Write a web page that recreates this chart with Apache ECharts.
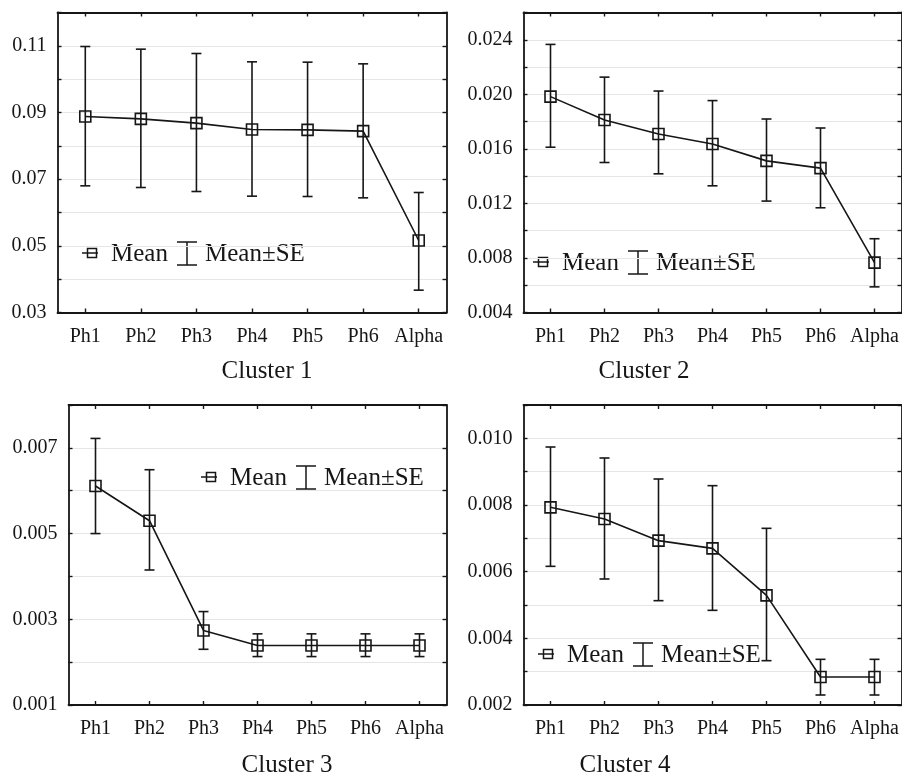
<!DOCTYPE html>
<html>
<head>
<meta charset="utf-8">
<script src="https://cdn.jsdelivr.net/npm/echarts@6/dist/echarts.min.js"></script>
<style>
    html, body { margin: 0; padding: 0; background: #fff; }
    #chart { width: 902px; height: 777px; }
</style>
</head>
<body>
<div id="chart"></div>
<script>
    // categories shared by all four clusters
    var categories = ['Ph1', 'Ph2', 'Ph3', 'Ph4', 'Ph5', 'Ph6', 'Alpha'];

    // Cluster 1
    var c1Mean = [0.0888, 0.0881, 0.0868, 0.0849, 0.0848, 0.0844, 0.0516];
    var c1Low = [0.0680, 0.0675, 0.0663, 0.0649, 0.0648, 0.0644, 0.0367];
    var c1High = [0.1098, 0.1090, 0.1077, 0.1052, 0.1051, 0.1046, 0.0660];
    // Cluster 2
    var c2Mean = [0.01983, 0.01812, 0.01709, 0.01636, 0.01512, 0.01459, 0.00766];
    var c2Low = [0.01612, 0.01500, 0.01417, 0.01329, 0.01217, 0.01168, 0.00588];
    var c2High = [0.02366, 0.02126, 0.02024, 0.01954, 0.01819, 0.01753, 0.00941];
    // Cluster 3
    var c3Mean = [0.00611, 0.00530, 0.00274, 0.00239, 0.00239, 0.00239, 0.00239];
    var c3Low = [0.00500, 0.00415, 0.00230, 0.00213, 0.00213, 0.00213, 0.00213];
    var c3High = [0.00722, 0.00649, 0.00318, 0.00266, 0.00266, 0.00266, 0.00266];
    // Cluster 4
    var c4Mean = [0.00793, 0.00758, 0.00693, 0.00670, 0.00529, 0.00284, 0.00284];
    var c4Low = [0.00616, 0.00578, 0.00513, 0.00484, 0.00333, 0.00230, 0.00230];
    var c4High = [0.00974, 0.00941, 0.00878, 0.00858, 0.00730, 0.00337, 0.00337];

    // y axis scales
    var yMins = [0.03, 0.004, 0.001, 0.002];
    var yMaxs = [0.12, 0.026, 0.008, 0.011];
    var yIntervals = [0.01, 0.002, 0.001, 0.001];
    var yDecimals = [2, 3, 3, 3];

    var titles = ['Cluster 1', 'Cluster 2', 'Cluster 3', 'Cluster 4'];

    var means = [c1Mean, c2Mean, c3Mean, c4Mean],
        lows = [c1Low, c2Low, c3Low, c4Low],
        highs = [c1High, c2High, c3High, c4High];

    var FONT = '"Liberation Serif", "DejaVu Serif", serif',
        INK = '#161616',
        GRID_LINE = '#e6e6e6';

    var grids = [
        {left: 57.5, top: 12.5, width: 389, height: 300},
        {left: 523.5, top: 12.5, width: 378, height: 300},
        {left: 68.5, top: 405, width: 378, height: 300},
        {left: 523.5, top: 405, width: 378, height: 300}
    ];
    var titlePos = [[267, 371], [644, 371], [287, 765], [625, 765]];
    var legendPos = [[82, 253], [533, 262], [201, 477], [538, 654]];

    var chart = echarts.init(document.getElementById('chart'));

    function $each(arr, fn) {
        for (var i = 0; i < arr.length; i++) fn(i, arr[i]);
    }

    function renderErr(params, api) {
        var x = api.value(0),
            lo = api.coord([x, api.value(1)]),
            hi = api.coord([x, api.value(2)]),
            w = 5,
            st = {stroke: INK, lineWidth: 1.6};
        return {
            type: 'group',
            children: [
                {type: 'line', shape: {x1: lo[0], y1: lo[1], x2: hi[0], y2: hi[1]}, style: st},
                {type: 'line', shape: {x1: lo[0] - w, y1: lo[1], x2: lo[0] + w, y2: lo[1]}, style: st},
                {type: 'line', shape: {x1: hi[0] - w, y1: hi[1], x2: hi[0] + w, y2: hi[1]}, style: st}
            ]
        };
    }

    function legendGroup(pos) {
        var st = {stroke: INK, lineWidth: 1.5, fill: null};
        return {
            type: 'group',
            x: pos[0],
            y: pos[1],
            children: [
                {type: 'line', shape: {x1: 0, y1: 0, x2: 16, y2: 0}, style: st},
                {type: 'rect', shape: {x: 5.5, y: -4.5, width: 9, height: 9}, style: st},
                {type: 'text', x: 29, y: 1.5, style: {text: 'Mean', font: '25px ' + FONT, fill: INK, verticalAlign: 'middle'}},
                {type: 'line', shape: {x1: 105, y1: -11, x2: 105, y2: 12}, style: st},
                {type: 'line', shape: {x1: 95, y1: -11, x2: 115, y2: -11}, style: st},
                {type: 'line', shape: {x1: 95, y1: 12, x2: 115, y2: 12}, style: st},
                {type: 'text', x: 123, y: 1.5, style: {text: 'Mean\u00b1SE', font: '25px ' + FONT, fill: INK, verticalAlign: 'middle'}}
            ]
        };
    }

    var xAxes = [], yAxes = [], series = [], graphics = [];

    $each(grids, function (i) {
        var min = yMins[i], step = yIntervals[i], dec = yDecimals[i];
        var axisLine = {show: true, lineStyle: {color: INK, width: 1.8}};
        var tick = {show: true, inside: true, length: 4, lineStyle: {color: INK, width: 1.4}};
        var catTick = {show: true, inside: true, length: 4, alignWithLabel: true, lineStyle: {color: INK, width: 1.4}};

        xAxes.push({
            type: 'category', gridIndex: i, position: 'bottom', data: categories,
            axisLine: axisLine,
            axisTick: catTick,
            axisLabel: {color: INK, fontFamily: FONT, fontSize: 20, margin: 14, interval: 0}
        });
        xAxes.push({
            type: 'category', gridIndex: i, position: 'top', data: categories,
            axisLine: axisLine,
            axisTick: catTick,
            axisLabel: {show: false}
        });
        yAxes.push({
            type: 'value', gridIndex: i, position: 'left',
            min: min, max: yMaxs[i], interval: step,
            axisLine: axisLine,
            axisTick: tick,
            splitLine: {show: true, lineStyle: {color: GRID_LINE, width: 1}},
            axisLabel: {
                color: INK, fontFamily: FONT, fontSize: 20, margin: 11,
                formatter: function (v) {
                    var k = Math.round((v - min) / step);
                    return k % 2 === 0 ? v.toFixed(dec) : '';
                }
            }
        });
        yAxes.push({
            type: 'value', gridIndex: i, position: 'right',
            min: min, max: yMaxs[i], interval: step,
            axisLine: axisLine,
            axisTick: tick,
            splitLine: {show: false},
            axisLabel: {show: false}
        });

        series.push({
            type: 'custom',
            xAxisIndex: 2 * i,
            yAxisIndex: 2 * i,
            renderItem: renderErr,
            data: categories.map(function (c, j) {
                return [j, lows[i][j], highs[i][j]];
            }),
            z: 3
        });
        series.push({
            type: 'line',
            xAxisIndex: 2 * i,
            yAxisIndex: 2 * i,
            data: means[i],
            symbol: 'rect',
            symbolSize: 11,
            itemStyle: {color: 'rgba(0,0,0,0)', borderColor: INK, borderWidth: 1.6},
            lineStyle: {color: INK, width: 1.6},
            z: 4
        });

        graphics.push({
            type: 'text', x: titlePos[i][0], y: titlePos[i][1],
            style: {text: titles[i], font: '25px ' + FONT, fill: INK, align: 'center', verticalAlign: 'middle'}
        });
        graphics.push(legendGroup(legendPos[i]));
    });

    chart.setOption({
        animation: false,
        backgroundColor: '#fff',
        grid: grids,
        xAxis: xAxes,
        yAxis: yAxes,
        series: series,
        graphic: graphics
    });
</script>
</body>
</html>
